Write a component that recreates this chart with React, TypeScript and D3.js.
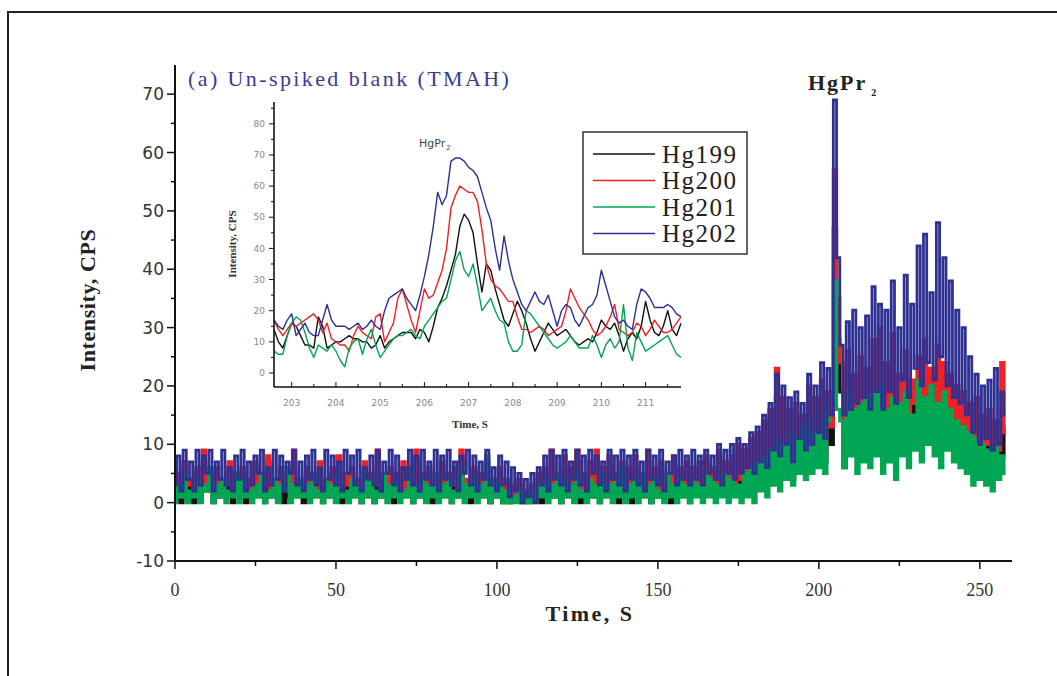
import React, { useEffect, useRef } from "react";
import * as d3 from "d3";

const seriesNames = ["Hg199", "Hg200", "Hg201", "Hg202"];
const seriesColors = ["#111111", "#ee2224", "#00a651", "#2e3192"];

// main run: one reading per second, starting at 0 s
const mainStart = 0;
const hg199 = [
  1,4,0,6,2,3,0,5,1,7,2,4,0,5,1,3,2,6,0,4,
  2,5,0,3,1,6,2,4,0,7,1,3,2,5,0,4,1,6,2,3,
  0,5,1,4,2,6,0,3,1,5,2,7,0,4,1,5,2,3,0,6,
  2,4,0,6,1,3,2,5,0,4,1,6,2,3,0,7,1,4,2,5,
  0,3,1,6,2,4,0,5,1,7,2,3,0,5,1,4,2,6,0,3,
  1,4,0,3,0,2,1,3,0,2,0,3,1,4,0,5,2,6,1,4,
  0,6,2,5,1,7,0,4,2,6,1,7,0,5,2,6,1,4,0,6,
  2,5,0,6,1,4,2,7,0,5,1,6,2,4,0,7,1,5,2,6,
  0,5,2,6,1,7,2,5,1,8,2,6,3,7,2,8,3,7,4,9,
  3,10,4,12,3,13,6,18,5,15,7,13,4,14,8,12,6,16,7,15,
  8,17,7,16,10,47,28,19,6,21,10,18,8,20,9,19,10,22,11,24,
  9,19,12,23,10,18,13,21,11,17,14,20,12,22,15,19,13,21,11,20,
  12,18,10,16,8,15,9,14,6,15,5,12,7,13,4,11,5,13,8,
];
const hg200 = [
  2,5,1,7,3,4,2,6,1,9,3,5,2,6,1,4,3,7,2,5,
  1,6,3,4,2,7,1,5,3,8,2,4,1,6,3,5,2,9,1,4,
  3,6,2,5,1,7,3,4,2,6,1,8,2,5,3,6,1,4,2,7,
  1,5,3,9,2,4,1,6,3,5,2,7,1,4,3,9,2,5,1,6,
  3,4,2,7,1,5,3,6,2,9,1,4,3,6,2,5,1,7,3,4,
  2,6,1,4,0,3,1,4,0,2,1,3,0,5,2,6,1,9,3,5,
  2,8,1,6,3,9,2,5,1,7,3,9,2,6,1,8,3,5,2,7,
  1,6,3,8,2,5,1,9,3,6,2,7,1,5,3,8,2,6,1,7,
  2,6,3,7,2,8,3,6,2,9,3,7,4,8,3,10,4,9,5,11,
  4,12,6,14,5,16,8,23,7,18,9,16,6,17,10,15,8,20,9,18,
  10,21,9,19,13,57,35,24,12,26,14,22,11,25,13,23,12,28,14,30,
  12,24,15,29,13,22,16,26,14,21,17,25,15,28,18,23,16,27,14,24,
  15,22,13,20,11,19,12,17,9,18,8,15,10,16,7,14,9,24,12,
];
const hg201 = [
  0,3,1,5,0,2,1,4,0,3,2,6,0,3,1,4,0,2,1,5,
  0,4,1,2,0,3,1,5,0,2,1,4,0,3,2,6,0,3,1,4,
  1,3,0,5,1,2,0,4,1,3,0,6,1,2,0,4,1,3,0,5,
  1,4,0,2,1,5,0,3,1,4,0,2,1,6,0,3,1,4,0,3,
  1,5,0,3,1,4,0,2,1,6,0,3,1,4,0,3,1,8,0,4,
  1,3,0,2,0,1,0,2,0,1,0,2,0,3,1,4,0,3,1,5,
  0,4,1,3,0,5,1,2,0,4,1,3,0,5,1,3,0,4,1,6,
  0,3,1,4,0,5,1,3,0,4,1,2,0,5,1,3,0,4,1,3,
  0,4,1,3,0,5,1,4,0,3,1,5,0,4,1,3,0,5,1,6,
  0,7,2,8,1,9,3,11,2,10,4,12,3,11,5,13,4,14,5,12,
  6,15,5,14,17,38,16,14,6,19,8,16,5,17,7,18,6,19,8,20,
  5,16,7,18,4,17,8,19,6,15,9,21,7,18,10,20,8,17,6,19,
  9,16,7,14,6,13,5,12,3,11,4,10,3,9,2,10,4,8,5,
];
const hg202 = [
  3,8,2,9,4,7,2,9,3,8,5,9,2,7,4,9,3,6,2,8,
  4,9,2,7,3,8,5,9,2,6,3,9,4,8,2,7,5,9,3,7,
  2,8,4,9,3,6,2,9,4,8,3,7,2,9,5,8,3,9,2,6,
  4,8,3,9,2,7,5,9,3,8,2,6,4,9,3,8,2,9,4,7,
  3,9,2,8,4,9,3,7,2,8,5,9,3,8,2,7,4,9,3,6,
  2,8,3,7,1,6,2,5,0,4,1,5,0,6,3,8,2,9,4,8,
  3,9,2,7,4,9,3,8,2,9,5,8,3,7,2,9,4,8,3,9,
  2,8,4,9,3,7,2,9,4,8,3,9,2,7,5,8,3,9,4,8,
  3,9,4,8,3,9,5,8,4,10,3,9,5,10,4,11,5,10,6,12,
  5,13,7,15,6,17,9,22,8,20,10,18,7,19,11,17,9,22,10,20,
  12,24,11,23,15,69,42,27,15,31,16,33,17,30,18,32,16,37,19,34,
  16,33,19,38,17,30,21,39,18,34,23,44,20,46,24,36,21,48,25,42,
  20,38,18,33,17,30,15,25,12,22,10,20,11,21,9,23,10,19,15,
];

// inset: one reading per 0.1 s, starting at 202.6 s
const insetStart = 202.6;
const insetStep = 0.1;
const inset199 = [
  14,10,8,12,16,15,12,9,9,8, 18,15,8,9,10,10,11,12,11,11,
  10,10,8,9,12,8,10,11,12,13, 13,13,11,14,13,10,15,21,24,28,
  33,38,47,51,49,45,35,26,35,33, 27,22,17,15,19,23,20,16,11,7,
  10,13,16,14,12,13,14,12,10,9, 10,11,10,13,17,15,14,16,12,7,
  11,13,11,15,23,17,13,12,15,20, 14,12,16,
];
const inset200 = [
  17,14,12,14,16,15,16,17,18,19, 17,13,16,11,10,9,9,7,12,15,
  13,12,11,18,19,10,13,16,24,27, 22,17,13,20,27,24,25,29,33,40,
  53,57,60,59,58,58,55,46,35,30, 28,27,25,23,23,18,14,14,13,14,
  15,14,12,13,14,15,20,27,24,21, 19,17,14,12,13,15,18,22,14,13,
  12,13,16,15,12,14,17,15,13,13, 14,16,18,
];
const inset201 = [
  7,6,6,12,16,18,17,13,8,5, 9,8,7,9,7,4,2,8,10,11,
  6,11,14,9,5,7,9,11,12,12, 13,14,12,11,15,17,19,21,23,24,
  30,36,39,33,31,35,28,20,22,24, 20,17,16,10,7,7,9,20,19,17,
  15,13,11,9,8,9,10,12,10,8, 8,8,12,9,5,9,11,8,10,22,
  8,4,13,10,7,8,9,10,11,12, 9,6,5,
];
const inset202 = [
  17,15,14,17,19,12,14,16,13,12, 12,17,22,17,15,15,15,14,15,16,
  14,15,17,15,14,20,24,25,26,27, 24,22,20,25,31,38,47,58,54,57,
  68,69,69,68,66,65,63,58,53,49, 40,33,44,36,30,26,22,20,23,26,
  23,22,25,20,15,20,22,21,17,15, 18,21,22,25,33,28,23,18,16,17,
  15,14,22,27,26,24,21,21,21,22, 21,19,18,
];

const mainYTicks = [-10, 0, 10, 20, 30, 40, 50, 60, 70];
const mainXTicks = [0, 50, 100, 150, 200, 250];
const insetXTicks = [203, 204, 205, 206, 207, 208, 209, 210, 211];
const insetYTicks = [0, 10, 20, 30, 40, 50, 60, 70, 80];

const App = () => {
  const svgRef = useRef(null);

  useEffect(() => {
    const svg = d3.select(svgRef.current);
    svg.selectAll("*").remove();

    const serif = "'Liberation Serif', 'Times New Roman', serif";
    const sans = "'DejaVu Sans', Verdana, sans-serif";

    svg.append("rect").attr("width", 1057).attr("height", 676).attr("fill", "#fff");
    // page frame
    svg.append("path").attr("d", "M8,676V12H1057").attr("fill", "none")
      .attr("stroke", "#222").attr("stroke-width", 2);

    // main scales
    const x = d3.scaleLinear().domain([0, 260]).range([175, 1012]);
    const y = d3.scaleLinear().domain([-10, 75]).range([561, 65]);

    // dense signal: step curve, wide strokes; the top trace slightly thinner
    const mainSeries = [hg199, hg200, hg201, hg202];
    const mainWidths = [3.2, 3.2, 3.2, 2.8];
    mainSeries.forEach((vals, k) => {
      const line = d3.line<number>()
        .x((d, i) => x(mainStart + i))
        .y((d) => y(d))
        .curve(d3.curveStep);
      svg.append("path").attr("d", line(vals)).attr("fill", "none")
        .attr("stroke", seriesColors[k]).attr("stroke-width", mainWidths[k]);
    });

    // main axes
    const ax = svg.append("g").attr("stroke", "#111");
    ax.append("line").attr("x1", x(0)).attr("x2", x(0)).attr("y1", y(75)).attr("y2", y(-10)).attr("stroke-width", 2);
    ax.append("line").attr("x1", x(0)).attr("x2", x(260)).attr("y1", y(-10)).attr("y2", y(-10)).attr("stroke-width", 2);
    d3.range(-10, 75, 5).forEach((v) => {
      const major = v % 10 === 0;
      ax.append("line").attr("x1", x(0) - (major ? 8 : 4)).attr("x2", x(0))
        .attr("y1", y(v)).attr("y2", y(v)).attr("stroke-width", 1.5);
    });
    d3.range(0, 260, 25).forEach((v) => {
      const major = v % 50 === 0;
      ax.append("line").attr("x1", x(v)).attr("x2", x(v))
        .attr("y1", y(-10)).attr("y2", y(-10) + (major ? 8 : 5)).attr("stroke-width", 1.5);
    });
    svg.append("g").selectAll("text").data(mainYTicks).join("text")
      .attr("x", x(0) - 11).attr("y", (d) => y(d)).attr("dy", "0.36em")
      .attr("text-anchor", "end").attr("font-family", sans).attr("font-size", 17)
      .attr("fill", "#333").text((d) => String(d));
    svg.append("g").selectAll("text").data(mainXTicks).join("text")
      .attr("x", (d) => x(d)).attr("y", 596).attr("text-anchor", "middle")
      .attr("font-family", serif).attr("font-size", 18).attr("fill", "#333")
      .text((d) => String(d));

    svg.append("text").attr("x", 590).attr("y", 621).attr("text-anchor", "middle")
      .attr("font-family", serif).attr("font-weight", "bold").attr("font-size", 22)
      .attr("letter-spacing", 2.5).attr("fill", "#222").text("Time, S");
    svg.append("text").attr("transform", "translate(95,300) rotate(-90)")
      .attr("text-anchor", "middle").attr("font-family", serif).attr("font-weight", "bold")
      .attr("font-size", 22).attr("letter-spacing", 0.6).attr("fill", "#222").text("Intensity, CPS");

    // title and peak label
    svg.append("text").attr("x", 188).attr("y", 86).attr("font-family", serif)
      .attr("font-size", 22).attr("letter-spacing", 2.4).attr("fill", "#3b3b8f")
      .text("(a) Un-spiked blank (TMAH)");
    const pk = svg.append("text").attr("x", 808).attr("y", 90).attr("font-family", serif)
      .attr("font-weight", "bold").attr("font-size", 22).attr("letter-spacing", 2)
      .attr("fill", "#222");
    pk.append("tspan").text("HgPr");
    pk.append("tspan").attr("font-size", 10).attr("dx", 4).attr("dy", 6).text("2");

    // inset
    const xi = d3.scaleLinear().domain([202.6, 211.8]).range([274, 681]);
    const yi = d3.scaleLinear().domain([-4.5, 87]).range([387, 102]);
    const insetSeries = [inset199, inset200, inset201, inset202];
    insetSeries.forEach((vals, k) => {
      const line = d3.line<number>()
        .x((d, i) => xi(insetStart + i * insetStep))
        .y((d) => yi(d));
      svg.append("path").attr("d", line(vals)).attr("fill", "none")
        .attr("stroke", seriesColors[k]).attr("stroke-width", 1.4)
        .attr("stroke-linejoin", "round");
    });
    const ia = svg.append("g").attr("stroke", "#111");
    ia.append("line").attr("x1", 274).attr("x2", 274).attr("y1", 102).attr("y2", 387).attr("stroke-width", 1.6);
    ia.append("line").attr("x1", 274).attr("x2", 681).attr("y1", 387).attr("y2", 387).attr("stroke-width", 1.6);
    d3.range(0, 90, 5).forEach((v) => {
      const major = v % 10 === 0;
      ia.append("line").attr("x1", 274 - (major ? 5 : 3)).attr("x2", 274)
        .attr("y1", yi(v)).attr("y2", yi(v)).attr("stroke-width", 1);
    });
    d3.range(203, 212, 0.5).forEach((v) => {
      const major = Number.isInteger(v);
      ia.append("line").attr("x1", xi(v)).attr("x2", xi(v))
        .attr("y1", 387).attr("y2", 387 - (major ? 5 : 3)).attr("stroke-width", 1);
    });
    svg.append("g").selectAll("text").data(insetYTicks).join("text")
      .attr("x", 265).attr("y", (d) => yi(d)).attr("dy", "0.36em").attr("text-anchor", "end")
      .attr("font-family", sans).attr("font-size", 9).attr("fill", "#888").text((d) => String(d));
    svg.append("g").selectAll("text").data(insetXTicks).join("text")
      .attr("x", (d) => xi(d)).attr("y", 406).attr("text-anchor", "middle")
      .attr("font-family", sans).attr("font-size", 9).attr("fill", "#888").text((d) => String(d));
    svg.append("text").attr("x", 470).attr("y", 428).attr("text-anchor", "middle")
      .attr("font-family", serif).attr("font-weight", "bold").attr("font-size", 11)
      .attr("fill", "#333").text("Time, S");
    svg.append("text").attr("transform", "translate(236,244) rotate(-90)")
      .attr("text-anchor", "middle").attr("font-family", serif).attr("font-weight", "bold")
      .attr("font-size", 11).attr("fill", "#333").text("Intensity, CPS");
    const ip = svg.append("text").attr("x", 419).attr("y", 147).attr("font-family", sans)
      .attr("font-size", 11).attr("fill", "#444");
    ip.append("tspan").text("HgPr");
    ip.append("tspan").attr("font-size", 7).attr("dx", 1).attr("dy", 3).text("2");

    // legend
    const lg = svg.append("g");
    lg.append("rect").attr("x", 583).attr("y", 132).attr("width", 164).attr("height", 122)
      .attr("fill", "#fff").attr("stroke", "#333").attr("stroke-width", 1.5);
    seriesNames.forEach((name, k) => {
      const cy = 154 + k * 26.5;
      lg.append("line").attr("x1", 593).attr("x2", 655).attr("y1", cy).attr("y2", cy)
        .attr("stroke", seriesColors[k]).attr("stroke-width", 1.4);
      lg.append("text").attr("x", 662).attr("y", cy).attr("dy", "0.35em")
        .attr("font-family", serif).attr("font-size", 25).attr("letter-spacing", 1.5)
        .attr("fill", "#222").text(name);
    });
  }, []);

  return (
    <svg ref={svgRef} width={1057} height={676}
      style={{ position: "absolute", left: 0, top: 0, display: "block" }} />
  );
};

export default App;
